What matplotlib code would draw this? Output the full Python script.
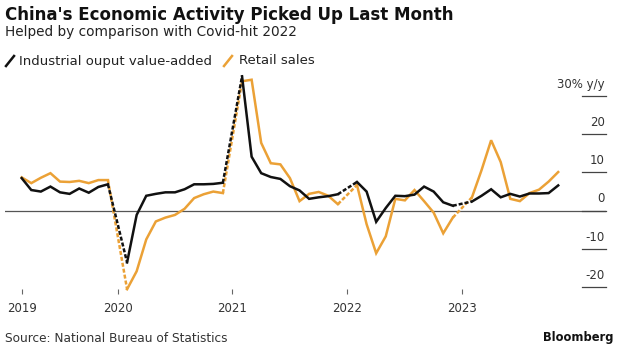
import numpy as np
import matplotlib
matplotlib.use("Agg")
import matplotlib.pyplot as plt
from matplotlib.lines import Line2D

# monthly y/y %, Mar 2019 .. Nov 2023; January is folded into Feb (nan)
nan = np.nan
ip_2019 = [8.5, 5.4, 5.0, 6.3, 4.8, 4.4, 5.8, 4.7, 6.2, 6.9]
ip_2020 = [nan, -13.5, -1.1, 3.9, 4.4, 4.8, 4.8, 5.6, 6.9, 6.9, 7.0, 7.3]
ip_2021 = [nan, 35.1, 14.1, 9.8, 8.8, 8.3, 6.4, 5.3, 3.1, 3.5, 3.8, 4.3]
ip_2022 = [nan, 7.5, 5.0, -2.9, 0.7, 3.9, 3.8, 4.2, 6.3, 5.0, 2.2, 1.3]
ip_2023 = [nan, 2.4, 3.9, 5.6, 3.5, 4.4, 3.7, 4.5, 4.5, 4.6, 6.6]

rs_2019 = [8.7, 7.2, 8.6, 9.8, 7.6, 7.5, 7.8, 7.2, 8.0, 8.0]
rs_2020 = [nan, -20.5, -15.8, -7.5, -2.8, -1.8, -1.1, 0.5, 3.3, 4.3, 5.0, 4.6]
rs_2021 = [nan, 33.8, 34.2, 17.7, 12.4, 12.1, 8.5, 2.5, 4.4, 4.9, 3.9, 1.7]
rs_2022 = [nan, 6.7, -3.5, -11.1, -6.7, 3.1, 2.7, 5.4, 2.5, -0.5, -5.9, -1.8]
rs_2023 = [nan, 3.5, 10.6, 18.4, 12.7, 3.1, 2.5, 4.6, 5.5, 7.6, 10.1]

year_labels = ["2019", "2020", "2021", "2022", "2023"]
year_ticks = [2, 12, 24, 36, 48]  # month index from Jan 2019
y_levels = [30, 20, 10, 0, -10, -20]

ip = np.array(ip_2019 + ip_2020 + ip_2021 + ip_2022 + ip_2023)
rs = np.array(rs_2019 + rs_2020 + rs_2021 + rs_2022 + rs_2023)
months = np.arange(2, 2 + len(ip))

BLACK = "#111111"
ORANGE = "#EBA136"

W, H = 620, 353
fig = plt.figure(figsize=(W / 100, H / 100), dpi=100)

def fx(px):
    return px / W

def fy(py):
    return 1 - py / H

ax = fig.add_axes([fx(5), fy(289), (606 - 5) / W, (289 - 70) / H])
ax.set_xlim(0.257, 62.99)
ax.set_ylim(-20.44, 36.74)
for s in ax.spines.values():
    s.set_visible(False)

ax.axhline(0, color="#555555", lw=0.9, zorder=1)

def draw(vals, color, z):
    ax.plot(months, vals, color=color, lw=1.8, zorder=z, clip_on=False,
            solid_joinstyle="miter")
    for i in np.where(np.isnan(vals))[0]:
        ax.plot(months[[i - 1, i + 1]], vals[[i - 1, i + 1]], color=color,
                lw=1.8, ls=(0, (1.6, 0.8)), zorder=z, clip_on=False)

draw(rs, ORANGE, 2)
draw(ip, BLACK, 3)

# right-hand scale: short rules with labels sitting above them
tr = ax.get_yaxis_transform()
for lv in y_levels:
    ax.plot([0.96, 1.0], [lv, lv], color="#444444", lw=0.9, transform=tr,
            clip_on=False)
    lab = "30% y/y" if lv == 30 else str(lv)
    ax.annotate(lab, xy=(1.0, lv), xycoords=tr, xytext=(-1, 8.5),
                textcoords="offset points", ha="right", va="center",
                fontsize=8.5, color="#333333")

ax.set_yticks([])
ax.set_xticks(year_ticks)
ax.set_xticklabels(year_labels, fontsize=8.5, color="#333333")
ax.tick_params(axis="x", length=3.5, width=0.8, color="#666666", pad=6)

# titles
fig.text(fx(5), fy(15), "China's Economic Activity Picked Up Last Month",
         fontsize=12, fontweight="bold", va="center", ha="left", color="#111111")
fig.text(fx(5), fy(32), "Helped by comparison with Covid-hit 2022",
         fontsize=9.8, va="center", ha="left", color="#222222")

# legend
fig.add_artist(Line2D([fx(6), fx(14)], [fy(66), fy(56)], color=BLACK, lw=1.8))
fig.text(fx(19), fy(61), "Industrial ouput value-added", fontsize=9.5,
         va="center", ha="left", color="#222222")
fig.add_artist(Line2D([fx(224), fx(232)], [fy(66), fy(56)], color=ORANGE, lw=1.8))
fig.text(fx(239), fy(61), "Retail sales", fontsize=9.5,
         va="center", ha="left", color="#222222")

# footer
fig.text(fx(5), fy(339), "Source: National Bureau of Statistics", fontsize=8.7,
         va="center", ha="left", color="#333333")
fig.text(fx(614), fy(338), "Bloomberg", fontsize=8.3, fontweight="bold",
         va="center", ha="right", color="#111111")

fig.savefig("out.png", dpi=100)
